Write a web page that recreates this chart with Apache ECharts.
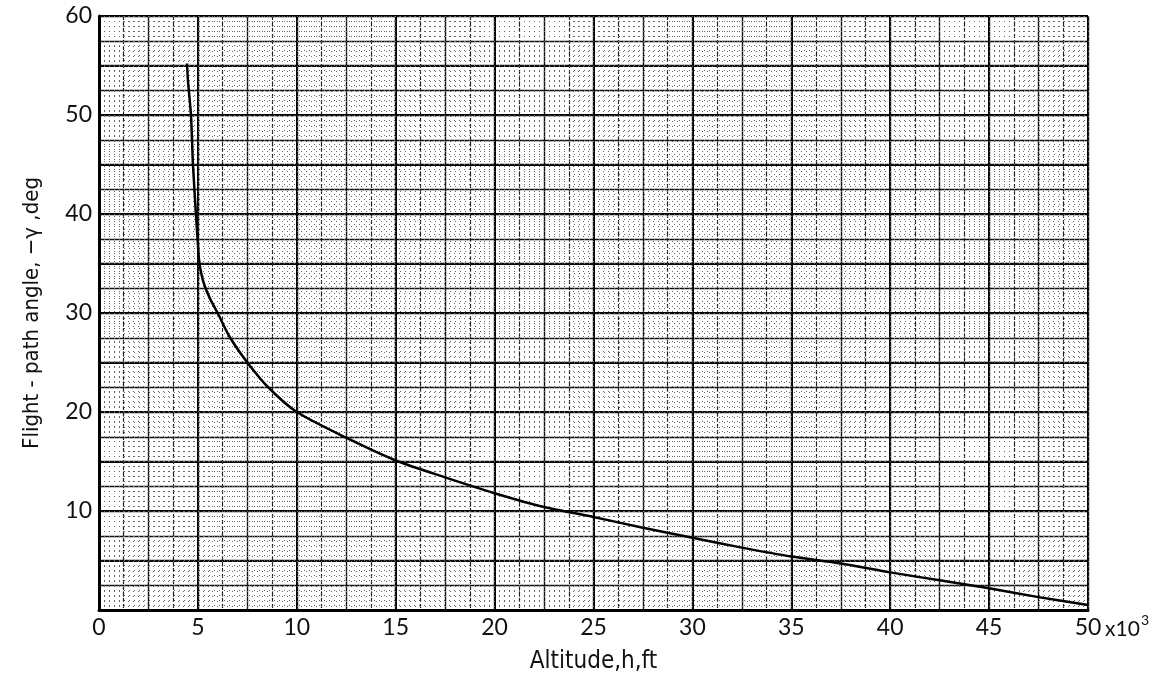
<!DOCTYPE html>
<html>
<head>
<meta charset="utf-8">
<script src="https://cdn.jsdelivr.net/npm/echarts@6/dist/echarts.min.js"></script>
<style>
  html, body { margin: 0; padding: 0; background: #fff; }
  #chart { width: 1168px; height: 684px; }
</style>
</head>
<body>
<div id="chart"></div>
<script>
// Altitude (thousands of ft) and flight-path angle (deg)
const altitude = [4.45, 4.5, 4.65, 4.75, 4.9, 5.0, 5.05, 5.15, 5.3, 5.6, 6.0, 6.6, 7.5, 8.55, 10.0, 12.5,
  15, 17.5, 20, 22.5, 25, 27.5, 30, 32.5, 35, 37.5, 40, 42.5, 45, 47.5, 50];
const pathAngle = [55.2, 53.4, 50, 45, 40, 37, 35.5, 34.2, 33.0, 31.5, 30, 27.6, 25, 22.5, 20, 17.4,
  15.1, 13.4, 11.8, 10.4, 9.4, 8.3, 7.3, 6.3, 5.4, 4.7, 3.8, 3.0, 2.2, 1.3, 0.5];

const xTickLabels = ['0', '5', '10', '15', '20', '25', '30', '35', '40', '45', '50'];
const yTickLabels = ['10', '20', '30', '40', '50', '60'];

const labelFont = 'Lato, "DejaVu Sans", sans-serif';
const nameFont = '"Liberation Sans Narrow", "DejaVu Sans Condensed", "Liberation Sans", sans-serif';

const chart = echarts.init(document.getElementById('chart'), null, { renderer: 'canvas' });

function hiddenAxis(extra) {
  return Object.assign({
    type: 'value', show: true,
    axisLine: { show: false }, axisTick: { show: false }, axisLabel: { show: false }
  }, extra);
}

const xCommon = { min: 0, max: 50 };
const yCommon = { min: 0, max: 60 };

const option = {
  animation: false,
  backgroundColor: '#fff',
  grid: { left: 99, right: 80, top: 16, bottom: 74 },
  xAxis: [
    // labelled axis with bold lines every 5
    Object.assign({
      type: 'value', interval: 5, position: 'bottom',
      name: 'Altitude,h,ft', nameLocation: 'middle', nameGap: 40,
      nameTextStyle: { fontFamily: nameFont, fontSize: 24, color: '#111' },
      axisLine: { show: true, onZero: false, lineStyle: { color: '#000', width: 3 } },
      axisTick: { show: false },
      axisLabel: {
        margin: 6, fontFamily: labelFont, fontSize: 23, color: '#111',
        formatter: v => xTickLabels[Math.round(v / 5)] ?? ''
      },
      splitLine: { show: true, lineStyle: { color: '#000', width: 2 } }
    }, xCommon),
    // medium lines every 2.5, dashed lines at 1.25
    hiddenAxis(Object.assign({
      interval: 2.5,
      splitLine: { show: true, lineStyle: { color: '#111', width: 1.4 } },
      minorTick: { show: false, splitNumber: 2 },
      minorSplitLine: { show: true, lineStyle: { color: '#222', width: 1.2, type: [4, 2] } }
    }, xCommon)),
    // fine dotted ruling
    hiddenAxis(Object.assign({
      interval: 0.25,
      splitLine: { show: true, lineStyle: { color: '#666', width: 1, type: [1, 4] } }
    }, xCommon))
  ],
  yAxis: [
    Object.assign({
      type: 'value', interval: 5,
      name: 'Flight - path angle, \u2212\u03b3 ,deg', nameLocation: 'middle', nameGap: 56,
      nameTextStyle: { fontFamily: nameFont, fontSize: 22, color: '#111' },
      axisLine: { show: true, onZero: false, lineStyle: { color: '#000', width: 3 } },
      axisTick: { show: false },
      axisLabel: {
        margin: 7, fontFamily: labelFont, fontSize: 23, color: '#111',
        formatter: v => (v > 0 && v % 10 === 0) ? yTickLabels[v / 10 - 1] : ''
      },
      splitLine: { show: true, lineStyle: { color: '#000', width: 2 } }
    }, yCommon),
    hiddenAxis(Object.assign({
      interval: 2.5,
      splitLine: { show: true, lineStyle: { color: '#111', width: 1.4 } }
    }, yCommon)),
    hiddenAxis(Object.assign({
      interval: 0.5,
      splitLine: { show: true, lineStyle: { color: '#666', width: 1, type: [1, 4] } }
    }, yCommon))
  ],
  series: [{
    type: 'line',
    xAxisIndex: 0, yAxisIndex: 0,
    data: altitude.map((x, i) => [x, pathAngle[i]]),
    showSymbol: false,
    smooth: 0.25,
    lineStyle: { color: '#000', width: 2.5, join: 'round' },
    z: 10
  }]
};

chart.setOption(option);

// "x10^3" multiplier written after the last altitude label
const p50 = chart.convertToPixel({ xAxisIndex: 0, yAxisIndex: 0 }, [50, 0]);
chart.setOption({
  graphic: [
    {
      type: 'text', left: p50[0] + 17, top: p50[1] + 9,
      style: { text: 'x10', fontFamily: labelFont, fontSize: 21, fill: '#111' }
    },
    {
      type: 'text', left: p50[0] + 53, top: p50[1] + 3,
      style: { text: '3', fontFamily: labelFont, fontSize: 14, fill: '#111' }
    }
  ]
});
</script>
</body>
</html>
